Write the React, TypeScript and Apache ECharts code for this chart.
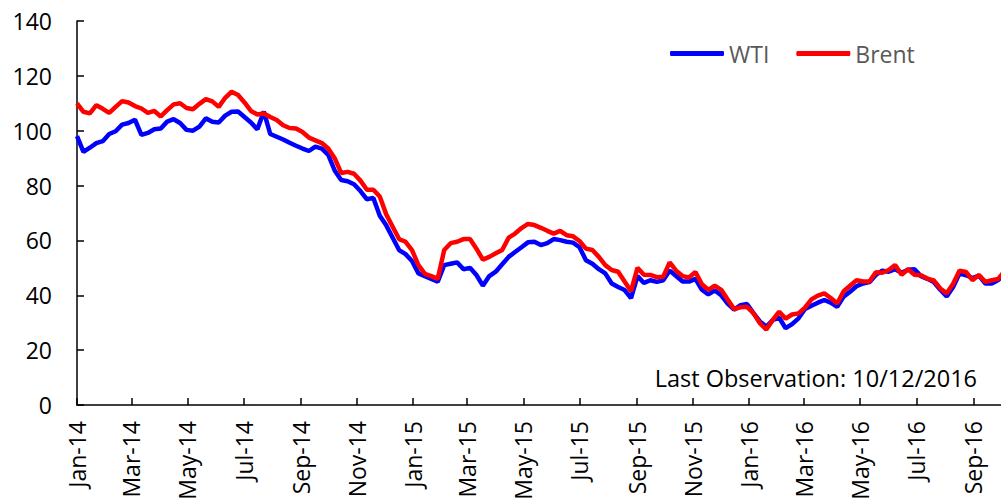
import React, { useEffect, useRef } from "react";
import * as echarts from "echarts";

const dates = [
  "2014-01-01","2014-01-08","2014-01-15","2014-01-22","2014-01-29","2014-02-05","2014-02-12","2014-02-19","2014-02-26",
  "2014-03-05","2014-03-12","2014-03-19","2014-03-26","2014-04-02","2014-04-09","2014-04-16","2014-04-23","2014-04-30",
  "2014-05-07","2014-05-14","2014-05-21","2014-05-28","2014-06-04","2014-06-11","2014-06-18","2014-06-25",
  "2014-07-02","2014-07-09","2014-07-16","2014-07-23","2014-07-30","2014-08-06","2014-08-13","2014-08-20","2014-08-27",
  "2014-09-03","2014-09-10","2014-09-17","2014-09-24","2014-10-01","2014-10-08","2014-10-15","2014-10-22","2014-10-29",
  "2014-11-05","2014-11-12","2014-11-19","2014-11-26","2014-12-03","2014-12-10","2014-12-17","2014-12-24","2014-12-31",
  "2015-01-07","2015-01-14","2015-01-21","2015-01-28","2015-02-04","2015-02-11","2015-02-18","2015-02-25",
  "2015-03-04","2015-03-11","2015-03-18","2015-03-25","2015-04-01","2015-04-08","2015-04-15","2015-04-22","2015-04-29",
  "2015-05-06","2015-05-13","2015-05-20","2015-05-27","2015-06-03","2015-06-10","2015-06-17","2015-06-24",
  "2015-07-01","2015-07-08","2015-07-15","2015-07-22","2015-07-29","2015-08-05","2015-08-12","2015-08-19","2015-08-26",
  "2015-09-02","2015-09-09","2015-09-16","2015-09-23","2015-09-30","2015-10-07","2015-10-14","2015-10-21","2015-10-28",
  "2015-11-04","2015-11-11","2015-11-18","2015-11-25","2015-12-02","2015-12-09","2015-12-16","2015-12-23","2015-12-30",
  "2016-01-06","2016-01-13","2016-01-20","2016-01-27","2016-02-03","2016-02-10","2016-02-17","2016-02-24",
  "2016-03-02","2016-03-09","2016-03-16","2016-03-23","2016-03-30","2016-04-06","2016-04-13","2016-04-20","2016-04-27",
  "2016-05-04","2016-05-11","2016-05-18","2016-05-25","2016-06-01","2016-06-08","2016-06-15","2016-06-22","2016-06-29",
  "2016-07-06","2016-07-13","2016-07-20","2016-07-27","2016-08-03","2016-08-10","2016-08-17","2016-08-24","2016-08-31",
  "2016-09-07","2016-09-14","2016-09-21","2016-09-28","2016-10-05","2016-10-12"
];

const wti = [
  98, 92.3, 93.8, 95.5, 96.2, 98.8, 99.8, 102.2, 102.8,
  104, 98.5, 99.2, 100.5, 100.8, 103.3, 104.2, 102.8, 100.3,
  100, 101.5, 104.5, 103.3, 103, 105.5, 106.9, 107,
  105, 103, 100.5, 107, 98.8, 97.8, 96.8, 95.6, 94.5,
  93.5, 92.6, 94.2, 93.5, 91.2, 85.5, 82, 81.6, 80.5,
  78, 75, 75.5, 69, 65.5, 61, 56.5, 55, 52.5,
  48, 47, 46, 45, 51, 51.5, 52, 49.5,
  50, 47.4, 43.5, 47, 48.6, 51.3, 54, 55.8, 57.5,
  59.3, 59.5, 58.3, 59, 60.5, 60.1, 59.5, 59.2,
  57.5, 52.8, 51.5, 49.5, 48, 44.3, 43, 41.9, 39,
  47, 44.5, 45.5, 44.9, 45.5, 49, 47, 45, 45,
  46, 42, 40.3, 41.8, 40, 37, 34.8, 36.4, 36.8,
  33.5, 30.5, 28.5, 31, 31.8, 28, 29.5, 31.6,
  35, 36.2, 37.3, 38.3, 37.3, 35.8, 39.5, 41.3, 43.3,
  44.3, 44.8, 47.4, 49, 48.6, 49.5, 48.2, 49.3, 49.5,
  47, 46, 44.8, 42, 39.6, 43, 48, 47.3, 46.3,
  47.2, 44.3, 44.3, 45.6, 47.5, 50.2
];

const brent = [
  110, 106.9, 106.3, 109.3, 108, 106.5, 108.7, 110.8, 110.3,
  109, 108.1, 106.5, 107.2, 105.2, 107.5, 109.6, 110, 108.3,
  107.8, 109.8, 111.5, 110.7, 108.7, 112, 114.2, 113,
  110.3, 107.2, 105.9, 106.3, 105, 103.9, 102, 101, 100.8,
  99.5, 97.5, 96.5, 95.5, 93.5, 90, 84.6, 85, 84.3,
  81.8, 78.5, 78.5, 76, 69.5, 65, 60.5, 59.5, 56.5,
  51, 47.8, 47, 46, 56.5, 59, 59.5, 60.5,
  60.5, 57, 53, 54, 55.3, 56.5, 61, 62.5, 64.5,
  66, 65.6, 64.6, 63.5, 62.5, 63.5, 61.9, 61.5,
  59.8, 57, 56.5, 54, 51, 49.2, 48.6, 45, 41.5,
  50, 47.5, 47.4, 46.6, 46.8, 52, 49, 47, 46.5,
  48.5, 44, 42, 43.5, 42, 38.5, 35, 35.6, 35.8,
  33.5, 29.8, 27.5, 31, 34, 31.5, 33, 33.4,
  35.5, 38.5, 39.9, 40.7, 39, 37, 41.5, 43.5, 45.5,
  45, 45, 48.4, 48.2, 49.2, 51, 47.5, 49.5, 47.5,
  47.3, 46.1, 45.4, 42.5, 40.7, 44.2, 49, 48.5, 45.5,
  47.4, 44.9, 45.5, 46, 48.8, 51.9
];

const seriesNames = ["WTI", "Brent"];
const yTicks = [0, 20, 40, 60, 80, 100, 120, 140];
const monthNames = ["Jan","Feb","Mar","Apr","May","Jun","Jul","Aug","Sep","Oct","Nov","Dec"];
const labelMonths = [
  [2014,0],[2014,2],[2014,4],[2014,6],[2014,8],[2014,10],
  [2015,0],[2015,2],[2015,4],[2015,6],[2015,8],[2015,10],
  [2016,0],[2016,2],[2016,4],[2016,6],[2016,8]
];
const note = "Last Observation: 10/12/2016";

const FONT = "'Open Sans', sans-serif";
const FS = 23;

export default function App() {
  const ref = useRef<HTMLDivElement>(null);
  useEffect(() => {
    document.body.style.margin = "0";
    if (!ref.current) return;
    const chart = echarts.init(ref.current, undefined, { renderer: "svg" });
    const tickValues = labelMonths.map(([y, m]) => new Date(y, m, 1).getTime());
    const toPts = (vals: number[]) => dates.map((d, i) => {
      const [y, m, dd] = d.split("-").map(Number);
      return [new Date(y, m - 1, dd).getTime(), vals[i]];
    });
    chart.setOption({
      animation: false,
      textStyle: { fontFamily: FONT },
      grid: { left: 77, right: 0, top: 21, bottom: 99, containLabel: false },
      legend: {
        data: seriesNames.map((n) => ({ name: n, icon: "roundRect" })),
        left: 665,
        top: 37,
        itemWidth: 54,
        itemHeight: 5,
        itemGap: 27,
        textStyle: { fontSize: FS, color: "#595959", fontFamily: FONT },
      },
      xAxis: {
        type: "value",
        min: new Date(2014, 0, 1).getTime(),
        max: new Date(2016, 9, 1).getTime(),
        axisLine: { show: true, lineStyle: { color: "#000", width: 1.5 } },
        axisTick: { show: true, inside: true, length: 7, customValues: tickValues, lineStyle: { color: "#000", width: 1.5 } },
        axisLabel: {
          show: true,
          customValues: tickValues,
          rotate: 90,
          margin: 16,
          fontSize: FS,
          color: "#000",
          fontFamily: FONT,
          formatter: (v: number) => {
            const d = new Date(v);
            return monthNames[d.getMonth()] + "-" + String(d.getFullYear() % 100).padStart(2, "0");
          },
        },
        splitLine: { show: false },
      },
      yAxis: {
        type: "value",
        min: yTicks[0],
        max: yTicks[yTicks.length - 1],
        interval: 20,
        axisLine: { show: true, lineStyle: { color: "#000", width: 1.5 } },
        axisTick: { show: true, inside: true, length: 7, lineStyle: { color: "#000", width: 1.5 } },
        axisLabel: { fontSize: FS, color: "#000", margin: 25, fontFamily: FONT },
        splitLine: { show: false },
      },
      graphic: [
        {
          type: "text",
          right: 24,
          top: 366,
          style: { text: note, fontSize: 23.5, fill: "#000", fontFamily: FONT },
        },
      ],
      series: [
        {
          name: "WTI",
          type: "line",
          data: toPts(wti),
          showSymbol: false,
          symbol: "none",
          lineStyle: { color: "#0000FF", width: 4.5 },
          itemStyle: { color: "#0000FF" },
          clip: true,
        },
        {
          name: "Brent",
          type: "line",
          data: toPts(brent),
          showSymbol: false,
          symbol: "none",
          lineStyle: { color: "#FF0000", width: 4.5 },
          itemStyle: { color: "#FF0000" },
          clip: true,
        },
      ],
    });
    return () => chart.dispose();
  }, []);
  return <div ref={ref} style={{ width: 1001, height: 504 }} />;
}
